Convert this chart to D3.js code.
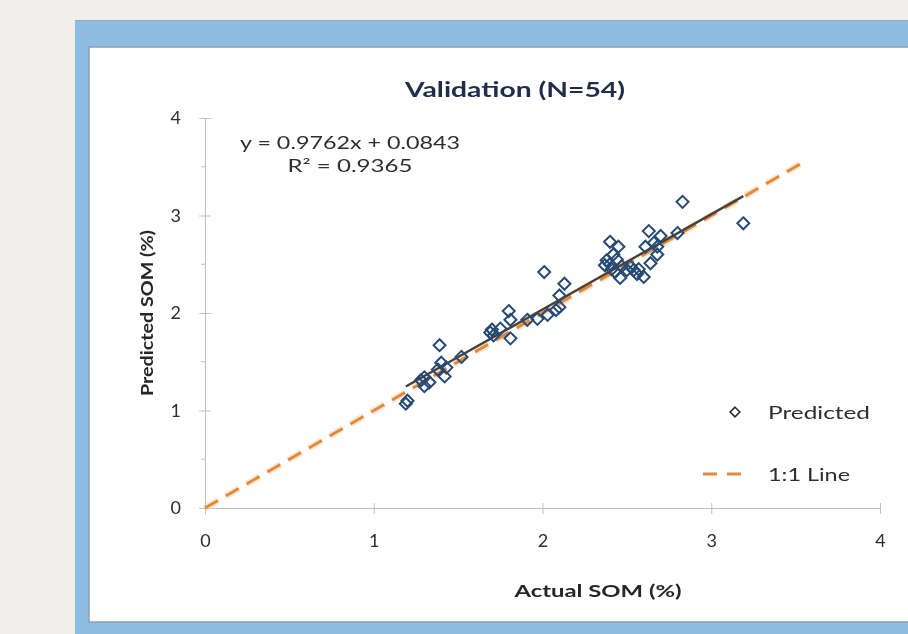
<!DOCTYPE html>
<html><head><meta charset="utf-8">
<script src="https://cdn.jsdelivr.net/npm/d3@7"></script>
<style>
html,body{margin:0;padding:0;background:#efeeec;}
svg{display:block;filter:blur(0.45px);}
text{font-family:Lato,"Open Sans",sans-serif;}
</style></head><body>
<svg id="c" width="908" height="634"></svg>
<script>
const actual = [1.19,1.20,1.28,1.30,1.30,1.33,1.39,1.38,1.40,1.42,1.43,1.52,1.69,1.70,1.71,1.80,1.81,1.81,1.91,1.97,2.01,2.03,2.10,2.10,2.13,2.08,2.40,2.45,2.38,2.40,2.41,2.44,2.43,2.46,2.47,2.50,2.54,2.56,2.60,2.63,2.61,2.64,2.68,2.68,2.70,2.66,2.80,2.83,3.19,2.37,2.52,1.75,2.42,2.57];
const predicted = [1.07,1.10,1.31,1.34,1.25,1.29,1.67,1.42,1.49,1.35,1.44,1.55,1.80,1.83,1.77,2.02,1.93,1.74,1.93,1.94,2.42,1.98,2.06,2.18,2.30,2.03,2.73,2.68,2.54,2.50,2.45,2.55,2.42,2.36,2.48,2.44,2.44,2.40,2.37,2.84,2.68,2.51,2.68,2.60,2.79,2.72,2.82,3.14,2.92,2.49,2.48,1.84,2.60,2.45];
const xTicks = [0,1,2,3,4];
const yTicks = [0,1,2,3,4];
const oneToOne = [0,3.55];
const slope = 0.9762, intercept = 0.0843;
const eqText = "y = 0.9762x + 0.0843";
const r2Text = "R² = 0.9365";
const title = "Validation (N=54)";
const xTitle = "Actual SOM (%)";
const yTitle = "Predicted SOM (%)";
const legendLabels = ["Predicted","1:1 Line"];

const svg = d3.select("#c");
// frame
svg.append("rect").attr("x",75).attr("y",20).attr("width",850).attr("height",620).attr("fill","#8dbde2");
svg.append("line").attr("x1",75).attr("x2",908).attr("y1",20.5).attr("y2",20.5).attr("stroke","#9aa9b8").attr("stroke-width",1);
svg.append("rect").attr("x",89).attr("y",47).attr("width",830).attr("height",575).attr("fill","#ffffff").attr("stroke","#8a9fb3").attr("stroke-width",1.5);

const x = d3.scaleLinear().domain([0,4]).range([205,880]);
const y = d3.scaleLinear().domain([0,4]).range([508,118]);
const axisColor = "#bfbfbf";
const labelColor = "#2e2e2e";

function txt(xp, yp, s, size, weight, width, fill, rotate) {
  const t = svg.append("text")
    .attr("transform", rotate ? `translate(${xp},${yp}) rotate(-90)` : `translate(${xp},${yp})`)
    .attr("text-anchor","middle").attr("fill",fill||"#333")
    .style("font-size",size+"px").style("font-weight",weight||"normal").text(s);
  if (width) t.attr("textLength",width).attr("lengthAdjust","spacingAndGlyphs");
  return t;
}

// x axis
const gx = svg.append("g").attr("transform","translate(0,508)")
  .call(d3.axisBottom(x).tickValues(xTicks).tickFormat(d3.format("d")).tickSizeInner(6).tickSizeOuter(0).tickPadding(20));
gx.select(".domain").attr("stroke",axisColor);
gx.selectAll(".tick line").attr("stroke",axisColor).attr("y1",-5).attr("y2",6);
gx.selectAll(".tick text").attr("fill",labelColor).style("font-size","18px").style("font-family","Lato");

// y axis
const gy = svg.append("g").attr("transform","translate(205,0)")
  .call(d3.axisLeft(y).tickValues(yTicks).tickFormat(d3.format("d")).tickSizeInner(6).tickSizeOuter(0).tickPadding(18));
gy.select(".domain").attr("stroke",axisColor);
gy.selectAll(".tick line").attr("stroke",axisColor).attr("x1",-6).attr("x2",6);
gy.selectAll(".tick text").attr("fill",labelColor).style("font-size","18px").style("font-family","Lato");
// minor ticks
const minors = d3.range(0.5,4,1);
svg.append("g").selectAll("line").data(minors).join("line")
  .attr("x1",x(0)-4).attr("x2",x(0)).attr("y1",d=>y(d)).attr("y2",d=>y(d)).attr("stroke",axisColor);

// 1:1 line
svg.append("line").attr("x1",x(oneToOne[0])).attr("y1",y(oneToOne[0])).attr("x2",x(oneToOne[1])).attr("y2",y(oneToOne[1]))
  .attr("stroke","#f7d3ad").attr("stroke-width",7).attr("stroke-dasharray","15 9").attr("opacity",0.5);
svg.append("line").attr("x1",x(oneToOne[0])).attr("y1",y(oneToOne[0])).attr("x2",x(oneToOne[1])).attr("y2",y(oneToOne[1]))
  .attr("stroke","#e08a3c").attr("stroke-width",3).attr("stroke-dasharray","15 9");

// trend line
const xmin = d3.min(actual), xmax = d3.max(actual);
svg.append("line").attr("x1",x(xmin)).attr("y1",y(slope*xmin+intercept)).attr("x2",x(xmax)).attr("y2",y(slope*xmax+intercept))
  .attr("stroke","#4b4038").attr("stroke-width",2.4);

// points
const diamond = "M0,-6L6,0L0,6L-6,0Z";
svg.append("g").selectAll("path").data(actual).join("path")
  .attr("d",diamond).attr("transform",(d,i)=>`translate(${x(d)},${y(predicted[i])})`)
  .attr("fill","none").attr("stroke","#264a75").attr("stroke-width",2);

// title
txt(515, 97, title, 21, "bold", 220, "#1f2d4a");
// equation
txt(350, 149, eqText, 17, "normal", 220, "#2e2e2e");
txt(350, 172, r2Text, 17, "normal", 125, "#2e2e2e");
// axis titles
txt(598, 597, xTitle, 17, "bold", 167, "#262626");
txt(153, 313, yTitle, 17, "bold", 166, "#262626", true);

// legend
svg.append("path").attr("d",diamond).attr("transform","translate(735,412) scale(0.8)")
  .attr("fill","none").attr("stroke","#2b2b2b").attr("stroke-width",2);
txt(819, 419, legendLabels[0], 18, "normal", 102, "#2e2e2e");
svg.append("line").attr("x1",703).attr("x2",746).attr("y1",474).attr("y2",474)
  .attr("stroke","#e08a3c").attr("stroke-width",3).attr("stroke-dasharray","14 10");
txt(809, 481, legendLabels[1], 18, "normal", 82, "#2e2e2e");
</script></body></html>
